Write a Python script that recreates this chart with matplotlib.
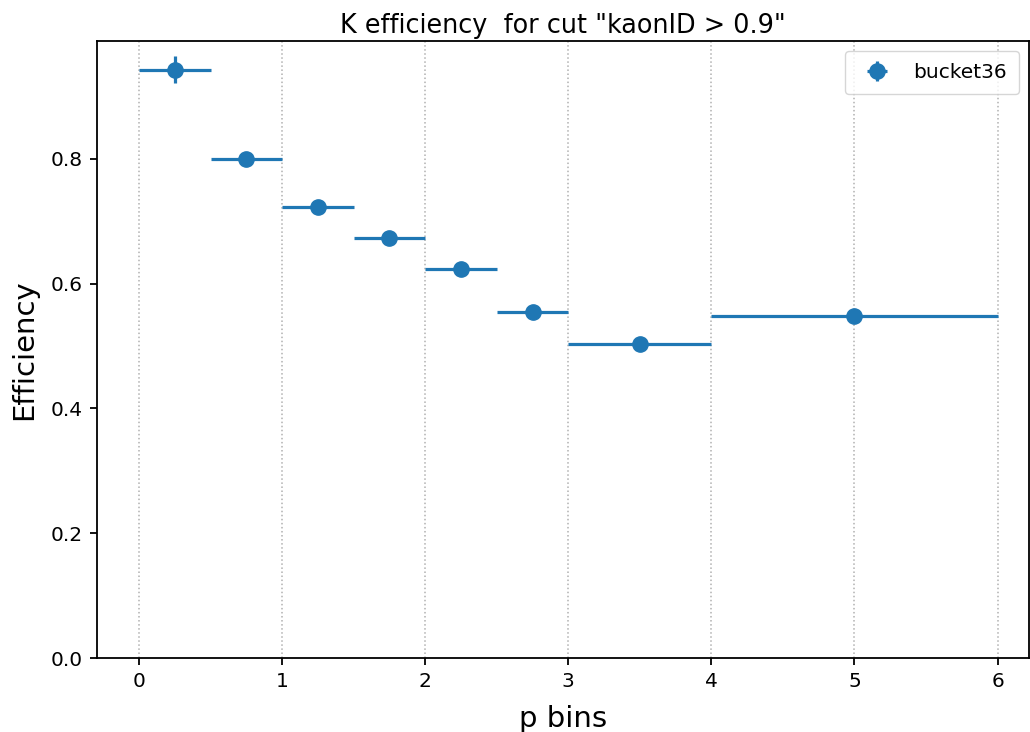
import matplotlib
matplotlib.use('Agg')
import matplotlib.pyplot as plt

# bin centres, half widths, efficiencies, errors
p_centres = [0.25, 0.75, 1.25, 1.75, 2.25, 2.75, 3.5, 5.0]
p_halfwidth = [0.25, 0.25, 0.25, 0.25, 0.25, 0.25, 0.5, 1.0]
eff = [0.943, 0.800, 0.723, 0.673, 0.624, 0.555, 0.503, 0.548]
eff_err = [0.022, 0.004, 0.004, 0.004, 0.004, 0.004, 0.004, 0.004]
bin_edges = [0, 1, 2, 3, 4, 5, 6]

fig = plt.figure(figsize=(10.3, 7.32), dpi=100)
ax = fig.add_axes([97/1030, 1-658/732, (1029-97)/1030, (658-41)/732])
ax.errorbar(p_centres, eff, xerr=p_halfwidth, yerr=eff_err, fmt='o', color='#1f77b4',
            markersize=11, elinewidth=2.3, label='bucket36')
for e in bin_edges:
    ax.axvline(e, color='#b0b0b0', ls=':', lw=1.1, zorder=0)
ax.set_xlim(-0.294, 6.22)
ax.set_ylim(0, 0.989)
ax.set_xticks(bin_edges)
ax.tick_params(labelsize=14.5, width=1.3, length=5, pad=5)
for s in ax.spines.values():
    s.set_linewidth(1.3)
ax.set_xlabel('p bins', fontsize=21, labelpad=10)
ax.set_ylabel('Efficiency', fontsize=21, labelpad=9)
ax.set_title('K efficiency  for cut "kaonID > 0.9"', fontsize=18.4)
ax.legend(loc='upper right', fontsize=14.5, borderpad=0.6)
fig.savefig('out.png', dpi=100)
